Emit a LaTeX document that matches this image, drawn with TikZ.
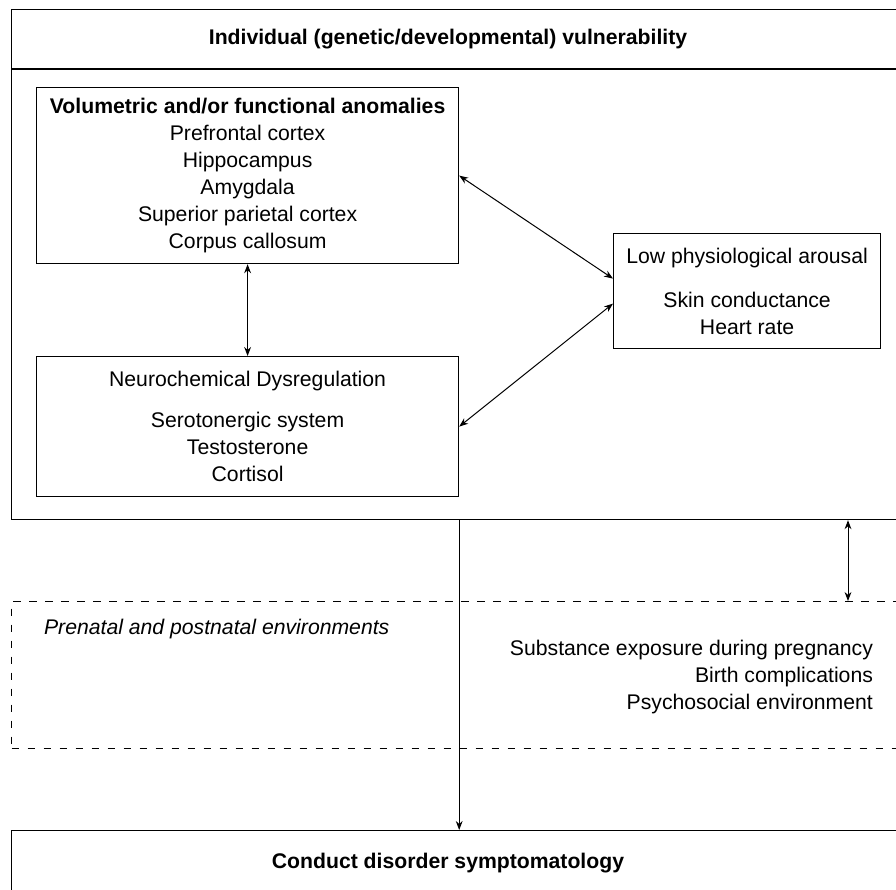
\documentclass[tikz,border=0pt]{standalone}
\usepackage{fontspec}
\setmainfont{Liberation Sans}
\usetikzlibrary{arrows.meta}
\begin{document}
\begin{tikzpicture}[x=0.5pt,y=-0.5pt,
  font=\fontsize{10.6}{13.5}\selectfont,
  box/.style={draw,line width=0.6pt,inner sep=0pt,align=center,anchor=north west},
  link/.style={line width=0.5pt,{Stealth[length=4.5pt,width=3.4pt]}-{Stealth[length=4.5pt,width=3.4pt]}},
  down/.style={line width=0.5pt,-{Stealth[length=4.5pt,width=3.4pt]}}]
\useasboundingbox (0,0) rectangle (896,890);
% outer frames
\node[box,minimum width=445.5pt,minimum height=255pt] (vuln) at (11,9) {};
\node[box,dash pattern=on 3.8pt off 4.2pt,minimum width=445.5pt,minimum height=73.5pt] (env) at (11,601) {};
\node[box,minimum width=445.5pt,minimum height=50pt] (cds) at (11,830) {};
\coordinate (sep) at (0,69);
\draw[line width=0.6pt] (vuln.west |- sep) -- (vuln.east |- sep);
\node[font=\fontsize{10.6}{13.5}\selectfont\bfseries] (vulntitle) at (448,39) {Individual (genetic/developmental) vulnerability};
\node[font=\fontsize{10.6}{13.5}\selectfont\bfseries] (cdstitle) at (448,863) {Conduct disorder symptomatology};
% inner boxes
\node[box,minimum width=211pt,minimum height=88pt] (vol) at (36,87)
  {\textbf{Volumetric and/or functional anomalies}\\Prefrontal cortex\\Hippocampus\\Amygdala\\Superior parietal cortex\\Corpus callosum};
\node[box,minimum width=211pt,minimum height=70pt] (neuro) at (36,356)
  {Neurochemical Dysregulation\\[7pt]Serotonergic system\\Testosterone\\Cortisol};
\node[box,minimum width=133.5pt,minimum height=57.5pt] (arousal) at (613,233)
  {Low physiological arousal\\[8.5pt]Skin conductance\\Heart rate};
% environment texts
\node[anchor=west,font=\fontsize{10.6}{13.5}\selectfont\itshape] (envtitle) at (37,629) {Prenatal and postnatal environments};
\node[anchor=east,align=right] (envlist) at (880,677)
  {Substance exposure during pregnancy\\Birth complications\\Psychosocial environment};
% connectors
\draw[link] (vol.south) -- (neuro.north);
\draw[link] (vol.east) -- ([yshift=6.25pt]arousal.west);
\draw[link] (neuro.east) -- ([yshift=-6.25pt]arousal.west);
\draw[down] (vuln.south -| vol.east) -- (cds.north -| vol.east);
\coordinate (tie) at (848,0);
\draw[link] (vuln.south -| tie) -- (env.north -| tie);
\end{tikzpicture}
\end{document}
